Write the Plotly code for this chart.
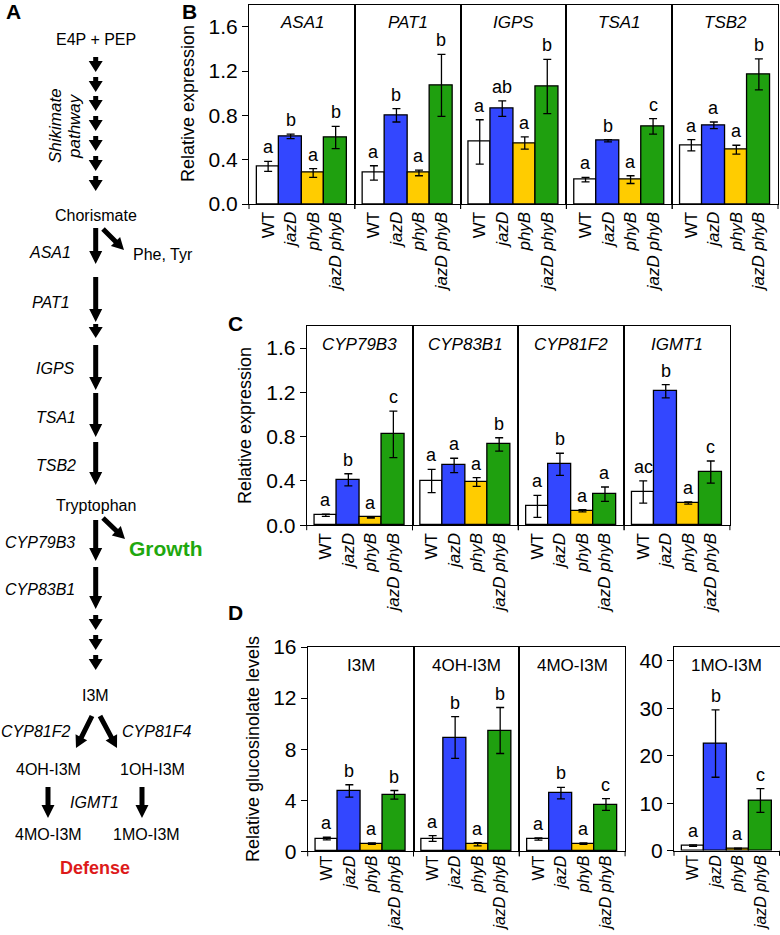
import math
import plotly.graph_objects as go

W, H = 780, 935
FONT = "Liberation Sans, Arial, sans-serif"

# ---------------- data ----------------
genotype_labels = ["WT", "<i>jazD</i>", "<i>phyB</i>", "<i>jazD phyB</i>"]
bar_colors = ["#ffffff", "#3347ff", "#ffcc00", "#1fa00f"]

# Panel B: Trp pathway gene expression
b_genes = ["ASA1", "PAT1", "IGPS", "TSA1", "TSB2"]
b_means = [
    [0.34, 0.61, 0.28, 0.60],
    [0.28, 0.80, 0.28, 1.07],
    [0.56, 0.86, 0.55, 1.06],
    [0.22, 0.57, 0.22, 0.70],
    [0.53, 0.71, 0.49, 1.17],
]
b_errs = [
    [0.045, 0.02, 0.04, 0.10],
    [0.065, 0.06, 0.025, 0.28],
    [0.20, 0.07, 0.055, 0.245],
    [0.02, 0.01, 0.035, 0.07],
    [0.05, 0.03, 0.04, 0.14],
]
b_letters = [
    ["a", "b", "a", "b"],
    ["a", "b", "a", "b"],
    ["a", "ab", "a", "b"],
    ["a", "b", "a", "c"],
    ["a", "a", "a", "b"],
]

# Panel C: indole glucosinolate gene expression
c_genes = ["CYP79B3", "CYP83B1", "CYP81F2", "IGMT1"]
c_means = [
    [0.09, 0.41, 0.07, 0.82],
    [0.40, 0.54, 0.39, 0.73],
    [0.17, 0.55, 0.13, 0.28],
    [0.30, 1.21, 0.20, 0.48],
]
c_errs = [
    [0.01, 0.055, 0.005, 0.21],
    [0.105, 0.065, 0.04, 0.06],
    [0.10, 0.10, 0.01, 0.065],
    [0.10, 0.06, 0.01, 0.10],
]
c_letters = [
    ["a", "b", "a", "c"],
    ["a", "a", "a", "b"],
    ["a", "b", "a", "a"],
    ["ac", "b", "a", "c"],
]

# Panel D: glucosinolate levels
d_names = ["I3M", "4OH-I3M", "4MO-I3M"]
d_means = [
    [1.0, 4.73, 0.60, 4.42],
    [1.0, 8.91, 0.55, 9.46],
    [0.96, 4.55, 0.60, 3.66],
]
d_errs = [
    [0.10, 0.48, 0.05, 0.34],
    [0.22, 1.63, 0.12, 1.80],
    [0.08, 0.45, 0.06, 0.46],
]
d_letters = [
    ["a", "b", "a", "b"],
    ["a", "b", "a", "b"],
    ["a", "b", "a", "c"],
]
d2_name = "1MO-I3M"
d2_means = [1.08, 22.6, 0.45, 10.6]
d2_errs = [0.15, 7.1, 0.10, 2.5]
d2_letters = ["a", "b", "a", "c"]

b_yticks = [0.0, 0.4, 0.8, 1.2, 1.6]
d_yticks = [0, 4, 8, 12, 16]
d2_yticks = [0, 10, 20, 30, 40]

# ---------------- helpers ----------------
def px(x):
    return x / W


def py(y):
    return 1 - y / H


fig = go.Figure()
layout = dict(
    template="none",
    width=W, height=H, margin=dict(l=0, r=0, t=0, b=0, pad=0, autoexpand=False),
    paper_bgcolor="white", plot_bgcolor="white",
    font=dict(family=FONT, color="black"),
    showlegend=False, bargap=0,
)
annotations = []
shapes = []
counter = [0]


def add_subpanel(x0, x1, y0, y1, yrange, title, italic, means, errs, letters,
                 yticks=None, yfmt=None, xfont=17, xstandoff=0):
    counter[0] += 1
    n = counter[0]
    xa = "x" if n == 1 else f"x{n}"
    ya = "y" if n == 1 else f"y{n}"
    xkey = "xaxis" if n == 1 else f"xaxis{n}"
    ykey = "yaxis" if n == 1 else f"yaxis{n}"
    fig.add_trace(go.Bar(
        x=[0, 1, 2, 3], y=means, width=1,
        marker=dict(color=bar_colors, line=dict(color="black", width=1.3)),
        error_y=dict(type="data", array=errs, color="black", thickness=1.3, width=4),
        xaxis=xa, yaxis=ya, showlegend=False, hoverinfo="skip",
    ))
    layout[xkey] = dict(
        domain=[px(x0), px(x1)], anchor=ya, range=[-0.85, 3.85],
        tickvals=[0, 1, 2, 3], ticktext=genotype_labels, tickangle=-90,
        ticks="", showline=True, mirror=True, linecolor="black", linewidth=1,
        showgrid=False, zeroline=False, tickfont=dict(size=xfont, family=FONT),
        ticklabelstandoff=xstandoff,
        fixedrange=True, automargin=False,
    )
    yax = dict(
        domain=[py(y1), py(y0)], anchor=xa, range=yrange,
        showline=True, mirror=True, linecolor="black", linewidth=1,
        showgrid=False, zeroline=False, fixedrange=True, automargin=False,
    )
    if yticks is not None:
        yax.update(tickvals=yticks, ticks="outside", ticklen=6, tickwidth=1,
                   tickcolor="black", tickfont=dict(size=21, family=FONT))
        if yfmt:
            yax["tickformat"] = yfmt
    else:
        yax.update(showticklabels=False, ticks="")
    layout[ykey] = yax
    # panel title
    t = f"<i>{title}</i>" if italic else title
    annotations.append(dict(
        xref=f"{xa} domain", yref=f"{ya} domain", x=0.5, y=1, yshift=-7,
        xanchor="center", yanchor="top", text=t, showarrow=False,
        font=dict(size=17, family=FONT),
    ))
    # significance letters
    for i in range(4):
        annotations.append(dict(
            xref=xa, yref=ya, x=i, y=means[i] + errs[i], yshift=2,
            xanchor="center", yanchor="bottom", text=letters[i],
            showarrow=False, font=dict(size=18, family=FONT),
        ))
    # small ticks on bottom axis at panel edges
    for bx in (x0, x1):
        shapes.append(dict(type="line", xref="paper", yref="paper",
                           x0=px(bx), x1=px(bx), y0=py(y1), y1=py(y1 + 5),
                           line=dict(color="black", width=1)))


SUBW = 105.8
# Panel B
for k in range(5):
    add_subpanel(249 + k * SUBW, 249 + (k + 1) * SUBW, 4.5, 204, [0, 1.8],
                 b_genes[k], True, b_means[k], b_errs[k], b_letters[k],
                 yticks=b_yticks if k == 0 else None, yfmt=".1f")
# Panel C
for k in range(4):
    add_subpanel(306.7 + k * SUBW, 306.7 + (k + 1) * SUBW, 326, 525.2, [0, 1.8],
                 c_genes[k], True, c_means[k], c_errs[k], c_letters[k],
                 yticks=b_yticks if k == 0 else None, yfmt=".1f")
# Panel D
for k in range(3):
    add_subpanel(307.7 + k * SUBW, 307.7 + (k + 1) * SUBW, 647, 851.3, [0, 16],
                 d_names[k], False, d_means[k], d_errs[k], d_letters[k],
                 yticks=d_yticks if k == 0 else None, xfont=16, xstandoff=-3)
add_subpanel(674, 779.5, 646.7, 850.8, [0, 43], d2_name, False,
             d2_means, d2_errs, d2_letters, yticks=d2_yticks,
             xfont=16, xstandoff=-3)


def text(x, y, s, size=16, angle=0, color="black", bold=False):
    if bold:
        s = f"<b>{s}</b>"
    annotations.append(dict(
        xref="paper", yref="paper", x=px(x), y=py(y), text=s, showarrow=False,
        xanchor="center", yanchor="middle", textangle=angle,
        font=dict(size=size, color=color, family=FONT),
    ))


# axis titles
text(188, 104, "Relative expression", size=18, angle=-90)
text(245, 426, "Relative expression", size=18, angle=-90)
text(253, 749, "Relative glucosinolate levels", size=18, angle=-90)

# panel letters
text(14, 12, "A", size=21, bold=True)
text(189, 12, "B", size=21, bold=True)
text(235, 324, "C", size=21, bold=True)
text(235, 612, "D", size=21, bold=True)


# ---------------- Panel A: pathway diagram ----------------
def arrow(x0, y0, x1, y1, stem=5, hl=13, hw=13):
    dx, dy = x1 - x0, y1 - y0
    L = math.hypot(dx, dy)
    ux, uy = dx / L, dy / L
    nx, ny = -uy, ux
    bx, by = x1 - ux * hl, y1 - uy * hl
    s, h = stem / 2, hw / 2
    pts = [
        (x0 + nx * s, y0 + ny * s), (bx + nx * s, by + ny * s),
        (bx + nx * h, by + ny * h), (x1, y1),
        (bx - nx * h, by - ny * h), (bx - nx * s, by - ny * s),
        (x0 - nx * s, y0 - ny * s),
    ]
    path = "M " + " L ".join(f"{px(a):.5f},{py(b):.5f}" for a, b in pts) + " Z"
    shapes.append(dict(type="path", xref="paper", yref="paper", path=path,
                       fillcolor="black", line=dict(width=0)))


AX = 95.7
text(AX, 39, "E4P + PEP")
for tip in [72, 92, 111, 131, 151, 171, 191]:
    arrow(AX, tip - 15, AX, tip, stem=5, hl=11, hw=14)
text(55, 126, "<i>Shikimate</i>", size=17, angle=-90)
text(74, 126, "<i>pathway</i>", size=17, angle=-90)
text(AX, 215, "Chorismate")
arrow(AX, 228, AX, 264)
arrow(103, 229, 124, 250, hl=12, hw=13)
text(163, 255, "Phe, Tyr")
text(50, 252, "<i>ASA1</i>")
arrow(AX, 277, AX, 322)
text(51, 303, "<i>PAT1</i>")
arrow(AX, 324, AX, 338, stem=5, hl=11, hw=14)
arrow(AX, 345, AX, 390)
text(56, 368, "<i>IGPS</i>")
arrow(AX, 393, AX, 437)
text(56, 417, "<i>TSA1</i>")
arrow(AX, 442, AX, 485)
text(56, 465, "<i>TSB2</i>")
text(AX, 505, "Tryptophan")
arrow(AX, 520, AX, 561)
arrow(103, 518, 125, 539, hl=12, hw=13)
text(40, 542, "<i>CYP79B3</i>")
text(166, 548, "Growth", size=21, color="#1fa80f", bold=True)
arrow(AX, 567, AX, 609)
text(40, 589, "<i>CYP83B1</i>")
for tip in [630, 650, 670]:
    arrow(AX, tip - 15, AX, tip, stem=5, hl=11, hw=14)
text(AX, 695, "I3M")
arrow(92, 716, 76, 748, hl=12, hw=13)
arrow(100, 716, 117, 748, hl=12, hw=13)
text(35, 731, "<i>CYP81F2</i>")
text(156, 731, "<i>CYP81F4</i>")
text(48, 769, "4OH-I3M")
text(152, 769, "1OH-I3M")
arrow(48, 787, 48, 818)
arrow(142, 787, 142, 818)
text(94, 802, "<i>IGMT1</i>")
text(48, 834, "4MO-I3M")
text(146, 834, "1MO-I3M")
text(95, 868, "Defense", size=18, color="#dd1a1a", bold=True)

layout["annotations"] = annotations
layout["shapes"] = shapes
fig.update_layout(**layout)
fig.write_html(
    "out.html",
    config={"displayModeBar": False},
    post_script="document.body.style.margin='0';document.body.style.overflow='hidden';",
)
